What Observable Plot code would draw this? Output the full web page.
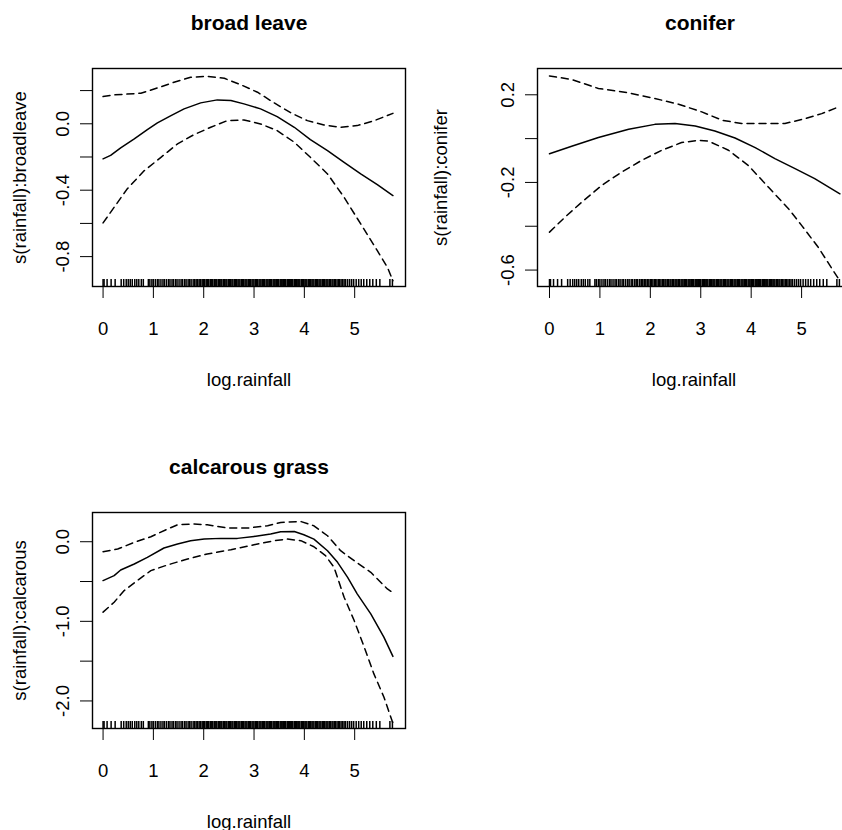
<!DOCTYPE html>
<html><head><meta charset="utf-8">
<script src="https://cdn.jsdelivr.net/npm/d3@7"></script>
<script src="https://cdn.jsdelivr.net/npm/@observablehq/plot@0.6"></script>
<style>
body{margin:0;background:#fff;}
#wrap{position:relative;width:842px;height:830px;overflow:hidden;background:#fff;}
.panel{position:absolute;}
.panel svg{max-width:none !important;}
</style></head><body><div id="wrap"></div>
<script>
// rug: observed log.rainfall values
const rainfallRug = [0, 0.02, 0.08, 0.16, 0.24, 0.36, 0.41, 0.46, 0.5, 0.54, 0.58, 0.63, 0.67, 0.71, 0.76, 0.8, 0.9, 0.93, 0.97, 1.0, 1.04, 1.08, 1.11, 1.15, 1.19, 1.22, 1.26, 1.3, 1.33, 1.37, 1.4, 1.44, 1.47, 1.51, 1.55, 1.58, 1.62, 1.65, 1.69, 1.72, 1.75, 1.79, 1.82, 1.85, 1.88, 1.91, 1.94, 1.97, 2.0, 2.02, 2.05, 2.08, 2.1, 2.13, 2.16, 2.18, 2.21, 2.24, 2.26, 2.29, 2.31, 2.34, 2.36, 2.39, 2.41, 2.44, 2.46, 2.49, 2.51, 2.53, 2.56, 2.58, 2.61, 2.63, 2.65, 2.68, 2.7, 2.72, 2.75, 2.77, 2.79, 2.82, 2.84, 2.86, 2.89, 2.91, 2.93, 2.96, 2.98, 3.0, 3.03, 3.05, 3.07, 3.1, 3.12, 3.14, 3.17, 3.19, 3.21, 3.24, 3.26, 3.28, 3.31, 3.33, 3.35, 3.38, 3.4, 3.42, 3.45, 3.47, 3.49, 3.52, 3.54, 3.56, 3.59, 3.61, 3.63, 3.66, 3.68, 3.7, 3.73, 3.75, 3.77, 3.8, 3.82, 3.84, 3.87, 3.89, 3.91, 3.94, 3.96, 3.98, 4.01, 4.03, 4.05, 4.08, 4.1, 4.12, 4.15, 4.17, 4.19, 4.22, 4.24, 4.26, 4.29, 4.31, 4.33, 4.36, 4.38, 4.4, 4.43, 4.45, 4.47, 4.5, 4.52, 4.55, 4.57, 4.6, 4.62, 4.65, 4.68, 4.7, 4.73, 4.76, 4.79, 4.82, 4.86, 4.9, 4.94, 4.98, 5.03, 5.08, 5.13, 5.18, 5.24, 5.3, 5.36, 5.43, 5.5, 5.7, 5.75];

const xTicks = [0, 1, 2, 3, 4, 5];

// broad leave
const broadFitX = [0, 0.15, 0.35, 0.62, 0.88, 1.08, 1.35, 1.61, 1.94, 2.27, 2.54, 2.8, 3.13, 3.46, 3.8, 4.12, 4.46, 4.79, 5.12, 5.45, 5.76];
const broadFitY = [-0.211, -0.19, -0.145, -0.091, -0.035, 0.005, 0.049, 0.09, 0.126, 0.144, 0.14, 0.12, 0.09, 0.043, -0.021, -0.095, -0.161, -0.232, -0.302, -0.366, -0.432];
const broadUpX = [0, 0.22, 0.75, 1.08, 1.41, 1.74, 2.07, 2.41, 2.73, 3.07, 3.4, 3.73, 4.06, 4.39, 4.72, 5.05, 5.39, 5.76];
const broadUpY = [0.164, 0.174, 0.184, 0.216, 0.25, 0.28, 0.286, 0.274, 0.236, 0.19, 0.126, 0.066, 0.019, -0.007, -0.021, -0.011, 0.019, 0.063];
const broadLoX = [0, 0.22, 0.48, 0.82, 1.15, 1.48, 1.81, 2.14, 2.47, 2.8, 3.13, 3.46, 3.8, 4.12, 4.46, 4.79, 5.12, 5.45, 5.65, 5.76];
const broadLoY = [-0.597, -0.503, -0.392, -0.282, -0.202, -0.121, -0.065, -0.021, 0.019, 0.023, -0.001, -0.041, -0.111, -0.202, -0.302, -0.443, -0.603, -0.764, -0.864, -0.945];
const broadYTicks = [0.2, 0, -0.2, -0.4, -0.6, -0.8];
const broadYLabels = [0, -0.4, -0.8];

// conifer
const conFitX = [0, 0.44, 0.97, 1.57, 2.09, 2.49, 2.89, 3.28, 3.68, 4.08, 4.47, 4.87, 5.26, 5.76];
const conFitY = [-0.069, -0.035, 0.005, 0.043, 0.065, 0.069, 0.058, 0.035, 0.003, -0.041, -0.091, -0.137, -0.183, -0.252];
const conUpX = [0, 0.44, 0.97, 1.57, 2.09, 2.56, 3.02, 3.42, 3.81, 4.27, 4.67, 5.07, 5.4, 5.76];
const conUpY = [0.286, 0.27, 0.229, 0.209, 0.183, 0.157, 0.122, 0.084, 0.069, 0.069, 0.069, 0.091, 0.114, 0.147];
const conLoX = [0, 0.31, 0.64, 1.04, 1.43, 1.83, 2.23, 2.62, 2.95, 3.15, 3.55, 3.94, 4.34, 4.74, 5.0, 5.33, 5.76];
const conLoY = [-0.427, -0.358, -0.29, -0.213, -0.153, -0.099, -0.053, -0.018, -0.008, -0.011, -0.053, -0.122, -0.221, -0.32, -0.396, -0.496, -0.65];
const conYTicks = [0.2, 0, -0.2, -0.4, -0.6];
const conYLabels = [0.2, -0.2, -0.6];

// calcarous grass
const calFitX = [0, 0.22, 0.35, 0.62, 0.88, 1.21, 1.48, 1.74, 2.01, 2.34, 2.67, 3.0, 3.33, 3.53, 3.8, 3.99, 4.19, 4.46, 4.66, 4.86, 5.05, 5.32, 5.58, 5.76];
const calFitY = [-0.488, -0.426, -0.355, -0.28, -0.196, -0.079, -0.029, 0.013, 0.033, 0.042, 0.042, 0.067, 0.096, 0.125, 0.129, 0.088, 0.033, -0.113, -0.259, -0.447, -0.655, -0.906, -1.198, -1.44];
const calUpX = [0, 0.29, 0.62, 0.95, 1.28, 1.48, 1.81, 2.07, 2.47, 2.87, 3.27, 3.53, 3.93, 4.19, 4.46, 4.72, 4.99, 5.32, 5.65, 5.76];
const calUpY = [-0.125, -0.092, -0.008, 0.063, 0.159, 0.213, 0.222, 0.213, 0.172, 0.172, 0.2, 0.242, 0.254, 0.2, 0.075, -0.113, -0.238, -0.384, -0.593, -0.64];
const calLoX = [0, 0.22, 0.42, 0.68, 0.95, 1.28, 1.61, 2.07, 2.54, 3.0, 3.4, 3.66, 3.93, 4.19, 4.42, 4.59, 4.79, 4.99, 5.19, 5.38, 5.58, 5.76];
const calLoY = [-0.885, -0.76, -0.614, -0.488, -0.363, -0.292, -0.229, -0.154, -0.1, -0.038, 0.013, 0.033, 0.013, -0.063, -0.175, -0.321, -0.697, -0.99, -1.323, -1.657, -1.95, -2.28];
const calYTicks = [0, -0.5, -1, -1.5, -2];
const calYLabels = [0, -1, -2];

const pts = (xs, ys) => xs.map((x, i) => ({x, y: ys[i]}));
const FONT = "'Liberation Sans', Arial, Helvetica, sans-serif";

function panel({title, titleDx = 0, ylabel, fit, up, lo, xDomain, yDomain, yTicks, yLabels,
                left, top, width, height, mL, mR, mT, mB}) {
  const frameH = height - mT - mB;
  const chart = Plot.plot({
    width, height,
    marginLeft: mL, marginRight: mR, marginTop: mT, marginBottom: mB,
    style: {fontFamily: FONT, fontSize: "18px", color: "black", background: "white", overflow: "visible", maxWidth: "none"},
    x: {domain: xDomain},
    y: {domain: yDomain},
    marks: [
      Plot.frame({stroke: "black", strokeWidth: 1.4}),
      Plot.ruleX(rainfallRug, {x: d => d, insetTop: frameH - 7, stroke: "black", strokeWidth: 1.5}),
      Plot.line(fit, {x: "x", y: "y", stroke: "black", strokeWidth: 1.5}),
      Plot.line(up, {x: "x", y: "y", stroke: "black", strokeWidth: 1.5, strokeDasharray: "7,5"}),
      Plot.line(lo, {x: "x", y: "y", stroke: "black", strokeWidth: 1.5, strokeDasharray: "7,5"}),
      Plot.axisX({ticks: xTicks, tickSize: 12, tickPadding: 23, tickFormat: d => String(d),
                  fontSize: 18.5, label: "log.rainfall", labelAnchor: "center", labelOffset: 99, labelArrow: "none"}),
      Plot.axisY({ticks: yTicks, tickSize: 12, tickPadding: 12, tickRotate: -90,
                  tickFormat: d => yLabels.includes(d) ? d.toFixed(1) : "",
                  fontSize: 18.5, label: ylabel, labelAnchor: "center", labelOffset: mL - 12, labelArrow: "none"}),
      Plot.text([title], {frameAnchor: "top", dy: -39, dx: titleDx, lineAnchor: "bottom", fontWeight: "bold", fontSize: 21, fill: "black"})
    ]
  });
  const div = document.createElement("div");
  div.className = "panel";
  div.style.left = left + "px";
  div.style.top = top + "px";
  div.style.width = width + "px";
  div.appendChild(chart);
  document.getElementById("wrap").appendChild(div);
}

panel({title: "broad leave", ylabel: "s(rainfall):broadleave",
  fit: pts(broadFitX, broadFitY), up: pts(broadUpX, broadUpY), lo: pts(broadLoX, broadLoY),
  xDomain: [-0.21, 6.01], yDomain: [-0.98, 0.333], yTicks: broadYTicks, yLabels: broadYLabels,
  left: 0, top: 0, width: 421, height: 415, mL: 92, mR: 16, mT: 68, mB: 129});

panel({title: "conifer", titleDx: 6, ylabel: "s(rainfall):conifer",
  fit: pts(conFitX, conFitY), up: pts(conUpX, conUpY), lo: pts(conLoX, conLoY),
  xDomain: [-0.238, 5.97], yDomain: [-0.675, 0.32], yTicks: conYTicks, yLabels: conYLabels,
  left: 421, top: 0, width: 445, height: 415, mL: 116, mR: 16, mT: 68, mB: 129});

panel({title: "calcarous grass", ylabel: "s(rainfall):calcarous",
  fit: pts(calFitX, calFitY), up: pts(calUpX, calUpY), lo: pts(calLoX, calLoY),
  xDomain: [-0.21, 6.01], yDomain: [-2.346, 0.367], yTicks: calYTicks, yLabels: calYLabels,
  left: 0, top: 415, width: 421, height: 415, mL: 92, mR: 16, mT: 97, mB: 102});
</script></body></html>
